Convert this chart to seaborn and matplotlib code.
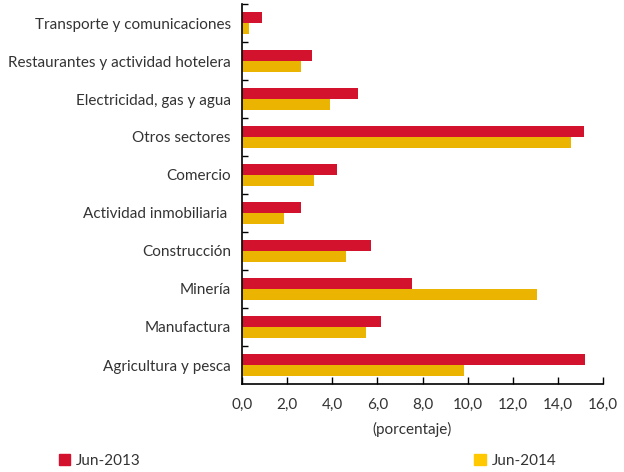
import matplotlib
matplotlib.use("Agg")
import matplotlib.pyplot as plt
import matplotlib.patches as mpatches
import seaborn as sns
import pandas as pd

sectores = [
    "Transporte y comunicaciones",
    "Restaurantes y actividad hotelera",
    "Electricidad, gas y agua",
    "Otros sectores",
    "Comercio",
    "Actividad inmobiliaria ",
    "Construcción",
    "Minería",
    "Manufactura",
    "Agricultura y pesca",
]
jun_2013 = [0.87, 3.10, 5.13, 15.15, 4.20, 2.63, 5.70, 7.52, 6.18, 15.20]
jun_2014 = [0.30, 2.63, 3.89, 14.59, 3.21, 1.85, 4.61, 13.08, 5.50, 9.86]
periodos = ["Jun-2013", "Jun-2014"]
x_ticks = [0, 2, 4, 6, 8, 10, 12, 14, 16]

rojo = "#D3132D"
amarillo = "#EBB400"
texto = "#333333"

df = pd.DataFrame({
    "sector": sectores * 2,
    "valor": jun_2013 + jun_2014,
    "periodo": [periodos[0]] * len(sectores) + [periodos[1]] * len(sectores),
})

sns.set_theme(style="white")
plt.rcParams["font.family"] = ["Lato", "DejaVu Sans"]

fig = plt.figure(figsize=(6.24, 4.72), dpi=100)
ax = fig.add_axes([242 / 624, 1 - 384 / 472, 361 / 624, 380 / 472])

sns.barplot(data=df, x="valor", y="sector", hue="periodo", orient="h",
            palette=[rojo, amarillo], width=0.6, order=sectores,
            hue_order=periodos, saturation=1, legend=False, ax=ax,
            edgecolor="none")

ax.set_xlim(0, 16)
ax.set_ylim(len(sectores) - 0.5, -0.5)
ax.set_xticks(x_ticks)
ax.set_xticklabels([f"{t:.1f}".replace(".", ",") for t in x_ticks],
                   fontsize=11, color=texto)
ax.set_yticks(range(len(sectores)))
ax.set_yticklabels(sectores, fontsize=11, color=texto)
ax.set_yticks([i - 0.5 for i in range(len(sectores))], minor=True)
ax.tick_params(axis="y", which="major", length=0, pad=8)
ax.tick_params(axis="y", which="minor", length=4, width=1, direction="in",
               color="black", left=True)
ax.tick_params(axis="x", which="major", length=5, width=1, direction="in",
               color="black", bottom=True, pad=10)
ax.set_xlabel("(porcentaje)", fontsize=11, color=texto)
ax.xaxis.set_label_coords(0.472, -0.1)
ax.set_ylabel("")

for side in ["top", "right"]:
    ax.spines[side].set_visible(False)
for side in ["left", "bottom"]:
    ax.spines[side].set_color("black")
    ax.spines[side].set_linewidth(1.2)

handles = [mpatches.Patch(color="#D3132D", label=periodos[0]),
           mpatches.Patch(color="#FFC800", label=periodos[1])]
fig.legend(handles=handles, loc="center left",
           bbox_to_anchor=(45 / 624, 1 - 461 / 472),
           ncol=2, frameon=False, fontsize=11, handlelength=0.75,
           handleheight=0.75, handletextpad=0.4, columnspacing=21.8,
           labelcolor=texto)

fig.savefig("out.png", dpi=100)
